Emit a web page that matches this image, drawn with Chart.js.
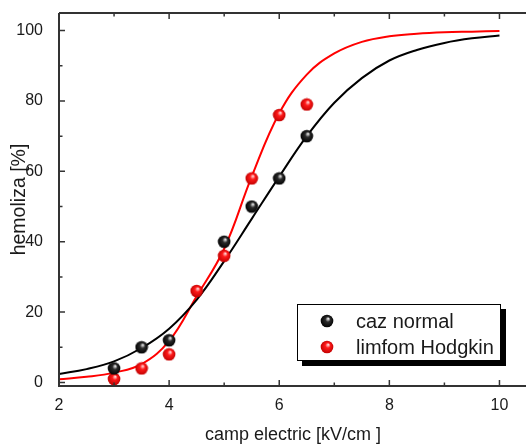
<!DOCTYPE html>
<html>
<head>
<meta charset="utf-8">
<script src="https://cdn.jsdelivr.net/npm/chart.js@4/dist/chart.umd.min.js"></script>
<style>
  html, body { margin: 0; padding: 0; background: #fff; overflow: hidden; }
  #wrap { width: 526px; height: 446px; overflow: hidden; }
</style>
</head>
<body>
<div id="wrap"><canvas id="chart" width="532" height="446"></canvas></div>
<script>
// axis ticks
const xTicks = [2, 4, 6, 8, 10];
const xMinor = [3, 5, 7, 9];
const yTicks = [0, 20, 40, 60, 80, 100];
const yMinor = [10, 30, 50, 70, 90];

// fitted curves
const fitX = [2, 2.5, 3, 3.5, 4, 4.5, 5, 5.5, 6, 6.5, 7, 7.5, 8, 8.5, 9, 9.5, 10];
const fitNormal = [2.4, 3.8, 6, 9.8, 15.3, 23.5, 34.5, 46.5, 58.5, 70, 79.5, 86.5, 91.5, 94.5, 96.5, 97.8, 98.6];
const fitHodgkin = [0.9, 1.6, 2.8, 5.2, 11.8, 24.5, 38, 58.5, 76.5, 87.5, 93.5, 96.8, 98.4, 99.1, 99.5, 99.7, 99.9];

// measured points
const measX = [3, 3.5, 4, 4.5, 5, 5.5, 6, 6.5];
const measNormal = [4, 10, 12, null, 40, 50, 58, 70];
const measHodgkin = [1, 4, 8, 26, 36, 58, 76, 79];

const labels = ['caz normal', 'limfom Hodgkin'];
const xTitle = 'camp electric [kV/cm ]';
const yTitle = 'hemoliza [%]';

const FONT = '"Liberation Sans", Arial, sans-serif';
const TEXT = '#1a1a1a';

// shaded ball used as marker
function makeBall(light, base, dark) {
    const c = document.createElement('canvas');
    c.width = 14; c.height = 14;
    const g = c.getContext('2d');
    const grad = g.createRadialGradient(8.3, 4.6, 0.4, 7, 7, 6.6);
    grad.addColorStop(0, light);
    grad.addColorStop(0.35, base);
    grad.addColorStop(1, dark);
    g.fillStyle = grad;
    g.beginPath();
    g.arc(7, 7, 6.3, 0, Math.PI * 2);
    g.fill();
    return c;
}
const blackBall = makeBall('#e8e8e8', '#2a2a2a', '#000000');
const redBall = makeBall('#ffd6d6', '#ff1a1a', '#c00000');

function toPoints(xs, ys) {
    return xs.map((x, i) => ({ x: x, y: ys[i] })).filter(p => p.y !== null);
}

// frame, inward ticks and legend
const framePlugin = {
    id: 'frame',
    afterDraw(chart) {
        const ctx = chart.ctx;
        const a = chart.chartArea;
        const xs = chart.scales.x;
        const ys = chart.scales.y;
        ctx.save();
        ctx.strokeStyle = '#333';
        ctx.lineWidth = 2;
        ctx.beginPath();
        ctx.moveTo(a.left, a.top);
        ctx.lineTo(a.right, a.top);
        ctx.moveTo(a.left, a.top);
        ctx.lineTo(a.left, a.bottom);
        ctx.lineTo(a.right, a.bottom);
        ctx.stroke();

        ctx.lineWidth = 1.5;
        ctx.beginPath();
        xTicks.forEach(v => {
            const px = xs.getPixelForValue(v);
            ctx.moveTo(px, a.bottom); ctx.lineTo(px, a.bottom - 6);
            ctx.moveTo(px, a.top); ctx.lineTo(px, a.top + 6);
        });
        xMinor.forEach(v => {
            const px = xs.getPixelForValue(v);
            ctx.moveTo(px, a.bottom); ctx.lineTo(px, a.bottom - 3.5);
            ctx.moveTo(px, a.top); ctx.lineTo(px, a.top + 3.5);
        });
        yTicks.forEach(v => {
            const py = ys.getPixelForValue(v);
            ctx.moveTo(a.left, py); ctx.lineTo(a.left + 6, py);
        });
        yMinor.forEach(v => {
            const py = ys.getPixelForValue(v);
            ctx.moveTo(a.left, py); ctx.lineTo(a.left + 3.5, py);
        });
        ctx.stroke();

        // legend box
        const bx = 297, by = 304, bw = 204, bh = 57;
        ctx.fillStyle = '#000';
        ctx.fillRect(bx + 5, by + 5, bw, bh);
        ctx.fillStyle = '#fff';
        ctx.fillRect(bx, by, bw, bh);
        ctx.lineWidth = 1;
        ctx.strokeStyle = '#000';
        ctx.strokeRect(bx + 0.5, by + 0.5, bw - 1, bh - 1);
        ctx.drawImage(blackBall, 327 - 7, 321 - 7);
        ctx.drawImage(redBall, 327 - 7, 347 - 7);
        ctx.fillStyle = TEXT;
        ctx.font = '20px ' + FONT;
        ctx.textBaseline = 'middle';
        ctx.textAlign = 'left';
        ctx.fillText(labels[0], 356, 322);
        ctx.fillText(labels[1], 356, 348);
        ctx.restore();
    }
};

new Chart(document.getElementById('chart'), {
    type: 'scatter',
    data: {
        datasets: [
            {
                label: labels[0],
                data: toPoints(measX, measNormal),
                pointStyle: blackBall,
                order: 0
            },
            {
                label: labels[1],
                data: toPoints(measX, measHodgkin),
                pointStyle: redBall,
                order: 0
            },
            {
                label: 'fit ' + labels[0],
                data: toPoints(fitX, fitNormal),
                showLine: true,
                pointRadius: 0,
                borderColor: '#000',
                borderWidth: 2,
                tension: 0.4,
                order: 1
            },
            {
                label: 'fit ' + labels[1],
                data: toPoints(fitX, fitHodgkin),
                showLine: true,
                pointRadius: 0,
                borderColor: '#ff0000',
                borderWidth: 2,
                tension: 0.4,
                order: 1
            }
        ]
    },
    options: {
        responsive: false,
        animation: false,
        layout: { padding: { top: 13, right: 3, left: 0, bottom: 0 } },
        plugins: {
            legend: { display: false },
            tooltip: { enabled: false }
        },
        scales: {
            x: {
                type: 'linear',
                min: 2,
                max: 10.5,
                grid: { display: false },
                border: { display: false },
                afterBuildTicks: s => { s.ticks = xTicks.map(v => ({ value: v })); },
                afterFit: s => { s.height = 60; s.paddingLeft = 0; s.paddingRight = 0; },
                ticks: { color: TEXT, font: { family: FONT, size: 16 }, padding: 2, maxRotation: 0 },
                title: { display: true, text: xTitle, color: TEXT, font: { family: FONT, size: 18 }, padding: { top: 0, bottom: 0 } }
            },
            y: {
                min: -1,
                max: 105,
                grid: { display: false },
                border: { display: false },
                afterBuildTicks: s => { s.ticks = yTicks.map(v => ({ value: v })); },
                afterFit: s => { s.width = 59; s.paddingTop = 0; s.paddingBottom = 0; },
                ticks: { color: TEXT, font: { family: FONT, size: 16 }, padding: 8 },
                title: { display: true, text: yTitle, color: TEXT, font: { family: FONT, size: 19.5 }, padding: { top: 8, bottom: 0 } }
            }
        }
    },
    plugins: [framePlugin]
});
</script>
</body>
</html>
